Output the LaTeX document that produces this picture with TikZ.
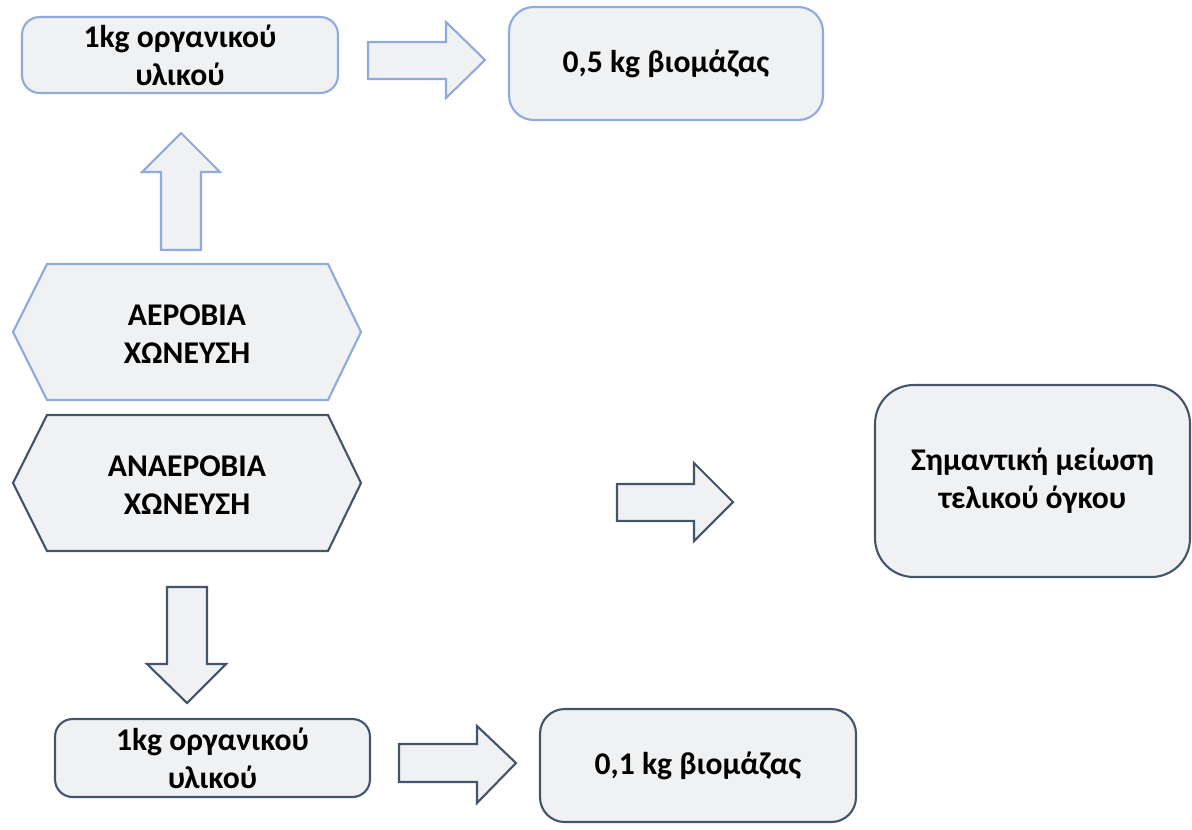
\documentclass[tikz,border=0pt]{standalone}
\usepackage{fontspec}
\setmainfont{Carlito}
\usepackage{tikz}
\definecolor{lightblue}{HTML}{8FAADC}
\definecolor{slate}{HTML}{44546A}
\definecolor{paleface}{HTML}{F0F1F3}

\tikzset{
  label text/.style={align=center, inner sep=0pt,
    font=\fontsize{18}{21.6}\selectfont\bfseries},
  bluebox/.style={label text, draw=lightblue, fill=paleface, line width=1.2pt},
  darkbox/.style={label text, draw=slate, fill=paleface, line width=1.2pt},
  bluearrow/.style={draw=lightblue, fill=paleface, line width=1.2pt},
  darkarrow/.style={draw=slate, fill=paleface, line width=1.2pt},
}

\begin{document}
\begin{tikzpicture}[x=0.02cm, y=-0.02cm]
    \useasboundingbox (0,0) rectangle (1192,829);

    % aerobic branch
    \node [bluebox, rounded corners=10pt, minimum width=6.32cm, minimum height=1.52cm]
      (aerobicin) at (180,55) {1kg οργανικού\\υλικού};
    \node [bluebox, rounded corners=14pt, minimum width=6.28cm, minimum height=2.26cm]
      (aerobicout) at (666,63.5) {0,5 kg βιομάζας};
    \draw [bluearrow]
      (368,42) -- (446,42) -- (446,22) -- (485,60)
               -- (446,98) -- (446,79) -- (368,79) -- cycle;
    \draw [bluearrow]
      (161,250) -- (161,172) -- (142,172) -- (181,133)
                -- (220,172) -- (201,172) -- (201,250) -- cycle;

    \draw [bluearrow]
      (13,332) -- (47,264) -- (328,264) -- (361,332)
               -- (328,400) -- (47,400) -- cycle;
    \node [label text] (aerobic) at (187,334) {ΑΕΡΟΒΙΑ\\ΧΩΝΕΥΣΗ};

    % anaerobic branch
    \draw [darkarrow]
      (13,483) -- (47,415) -- (328,415) -- (361,483)
               -- (328,551) -- (47,551) -- cycle;
    \node [label text] (anaerobic) at (187,485) {ΑΝΑΕΡΟΒΙΑ\\ΧΩΝΕΥΣΗ};

    \draw [darkarrow]
      (617,484) -- (694,484) -- (694,463) -- (733,502)
                -- (694,541) -- (694,521) -- (617,521) -- cycle;
    \node [darkbox, rounded corners=22pt, minimum width=6.3cm, minimum height=3.84cm]
      (volume) at (1032.5,481) {Σημαντική μείωση\\τελικού όγκου};

    \draw [darkarrow]
      (167,587) -- (207,587) -- (207,664) -- (226,664)
                -- (187,703) -- (147,664) -- (167,664) -- cycle;
    \node [darkbox, rounded corners=10pt, minimum width=6.3cm, minimum height=1.56cm]
      (anaerobicin) at (212.5,758) {1kg οργανικού\\υλικού};
    \draw [darkarrow]
      (399,744) -- (477,744) -- (477,726) -- (516,763)
                -- (477,803) -- (477,782) -- (399,782) -- cycle;
    \node [darkbox, rounded corners=14pt, minimum width=6.32cm, minimum height=2.26cm]
      (anaerobicout) at (698,765.5) {0,1 kg βιομάζας};
  \end{tikzpicture}
\end{document}
